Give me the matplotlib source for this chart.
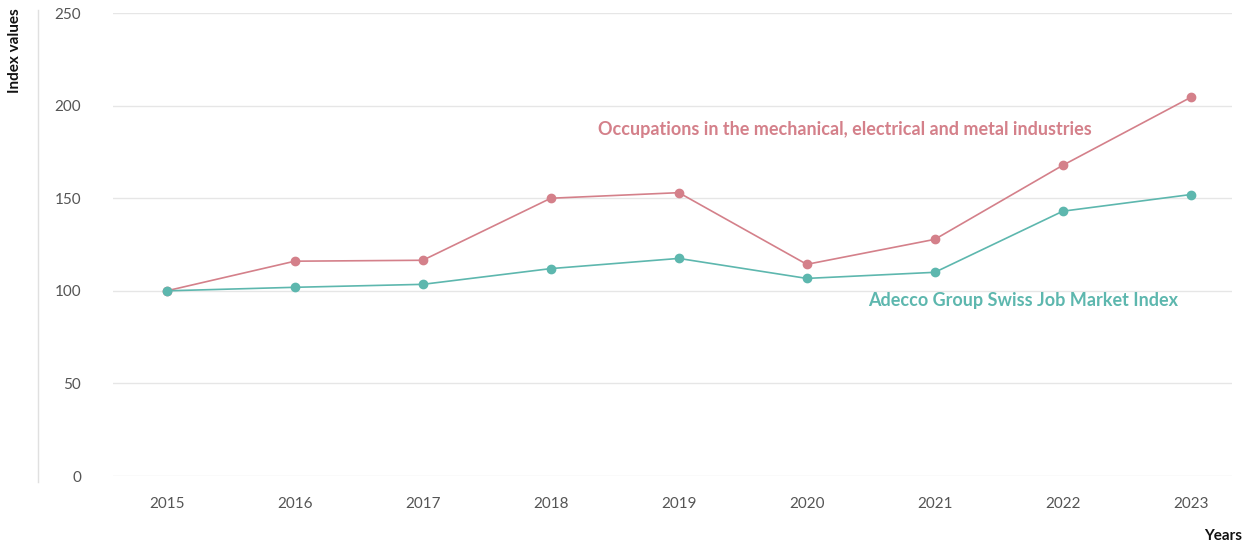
import matplotlib.pyplot as plt
from matplotlib.lines import Line2D

years = [2015, 2016, 2017, 2018, 2019, 2020, 2021, 2022, 2023]
mem_industries = [100, 116, 116.5, 150, 153, 114.3, 127.8, 167.8, 204.5]
job_market_index = [100, 101.9, 103.5, 112, 117.5, 106.7, 110, 143, 152]
y_ticks = [0, 50, 100, 150, 200, 250]

red = '#d4808a'
teal = '#5db7ae'

plt.rcParams['font.family'] = ['Lato', 'DejaVu Sans']

fig = plt.figure(figsize=(12.43, 5.44), dpi=100)
ax = fig.add_axes([0.0909, 0.125, 0.9001, 0.851])

ax.plot(years, mem_industries, color=red, lw=1.2, marker='o', ms=6, zorder=3)
ax.plot(years, job_market_index, color=teal, lw=1.2, marker='o', ms=6, zorder=4)

ax.set_xlim(2014.58, 2023.32)
ax.set_ylim(0, 250)
ax.set_yticks(y_ticks)
ax.set_xticks(years)
ax.set_xticklabels([str(y) for y in years])
ax.grid(axis='y', color='#e6e6e6', lw=1)
ax.set_axisbelow(True)
for s in ax.spines.values():
    s.set_visible(False)
ax.tick_params(length=0, labelsize=11, colors='#555555')
ax.tick_params(axis='y', pad=23)
ax.tick_params(axis='x', pad=15)

ax.text(2018.37, 187, 'Occupations in the mechanical, electrical and metal industries',
        color=red, fontsize=13, fontweight='bold', va='center')
ax.text(2020.48, 95, 'Adecco Group Swiss Job Market Index',
        color=teal, fontsize=13, fontweight='bold', va='center')

fig.add_artist(Line2D([38 / 1243, 38 / 1243], [1 - 10 / 544, 1 - 482 / 544],
                      color='#e0e0e0', lw=1, transform=fig.transFigure))
fig.text(15 / 1243, 1 - 8 / 544, 'Index values', rotation=90, ha='center', va='top',
         fontsize=11, fontweight='bold', color='#111111')
fig.text(1 - 1 / 1243, 1 - 536 / 544, 'Years', ha='right', va='center',
         fontsize=11, fontweight='bold', color='#111111')

fig.savefig('out.png', dpi=100)
